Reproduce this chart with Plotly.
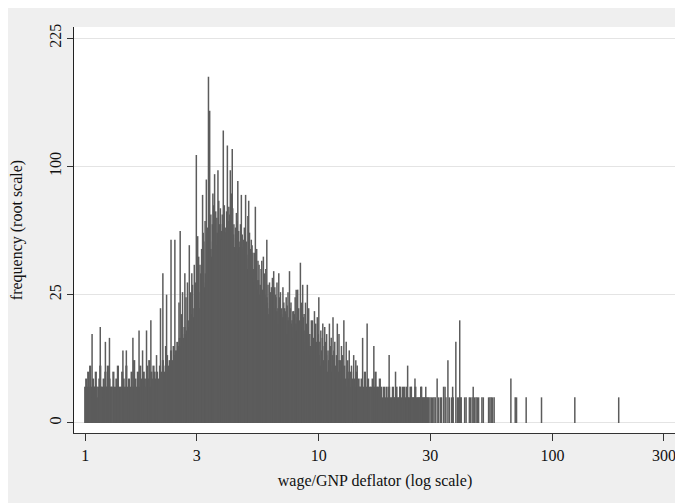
import math
import plotly.graph_objects as go

# ---- data: wage value (wage/GNP deflator) and frequency of that value ----
dense_wage_a = [1.00, 1.01, 1.02, 1.03, 1.04, 1.05, 1.06, 1.07, 1.08, 1.09,
                1.10, 1.11, 1.12, 1.13, 1.14, 1.15, 1.16, 1.17, 1.18, 1.19,
                1.20, 1.21, 1.22, 1.23, 1.24, 1.25, 1.26, 1.27, 1.28, 1.29]
dense_freq_a = [2, 3, 2, 4, 2, 5, 2, 1, 3, 2,
                2, 4, 2, 1, 2, 3, 5, 2, 2, 1,
                3, 2, 4, 2, 2, 5, 2, 3, 1, 2]

dense_wage_b = [1.30, 1.32, 1.34, 1.36, 1.38, 1.40, 1.42, 1.44, 1.46, 1.48,
                1.50, 1.52, 1.54, 1.56, 1.58, 1.60, 1.62, 1.64, 1.66, 1.68,
                1.70, 1.72, 1.74, 1.76, 1.78, 1.80, 1.82, 1.84, 1.86, 1.88,
                1.90, 1.92, 1.94, 1.96, 1.98]
dense_freq_b = [2, 4, 2, 3, 5, 2, 2, 4, 3, 2,
                5, 2, 3, 2, 4, 2, 6, 3, 2, 4,
                2, 5, 3, 2, 4, 3, 2, 5, 3, 6,
                2, 4, 3, 5, 4]

dense_wage_c = [2.00, 2.03, 2.06, 2.09, 2.12, 2.15, 2.18, 2.21, 2.24, 2.27,
                2.30, 2.33, 2.36, 2.39, 2.42, 2.45, 2.48, 2.51, 2.54, 2.57,
                2.60, 2.63, 2.66, 2.69, 2.72, 2.75, 2.78, 2.81, 2.84, 2.87,
                2.90, 2.93, 2.96]
dense_freq_c = [3, 4, 3, 5, 4, 6, 4, 5, 7, 5,
                6, 8, 6, 9, 7, 8, 10, 9, 11, 9,
                12, 11, 14, 12, 13, 16, 14, 15, 18, 16,
                17, 20, 18]

dense_wage_d = [3.00, 3.04, 3.08, 3.12, 3.16, 3.20, 3.24, 3.28, 3.32, 3.36,
                3.40, 3.44, 3.48, 3.52, 3.56, 3.60, 3.64, 3.68, 3.72, 3.76,
                3.80, 3.84, 3.88, 3.92, 3.96]
dense_freq_d = [18, 22, 20, 26, 24, 30, 28, 34, 32, 40,
                38, 46, 42, 50, 45, 52, 48, 55, 50, 58,
                52, 56, 60, 54, 58]

dense_wage_e = [4.00, 4.06, 4.12, 4.18, 4.24, 4.30, 4.36, 4.42, 4.48, 4.54,
                4.60, 4.66, 4.72, 4.78, 4.84, 4.90, 4.96, 5.02, 5.08, 5.14,
                5.20, 5.26, 5.32, 5.38, 5.44, 5.50, 5.56, 5.62, 5.68, 5.74,
                5.80, 5.86, 5.92, 5.98]
dense_freq_e = [55, 48, 58, 50, 46, 54, 47, 52, 44, 50,
                42, 47, 40, 46, 38, 43, 36, 41, 34, 38,
                32, 36, 30, 33, 27, 31, 25, 29, 23, 27,
                22, 25, 21, 24]

dense_wage_f = [6.0, 6.1, 6.2, 6.3, 6.4, 6.5, 6.6, 6.7, 6.8, 6.9,
                7.0, 7.1, 7.2, 7.3, 7.4, 7.5, 7.6, 7.7, 7.8, 7.9,
                8.0, 8.1, 8.2, 8.3, 8.4, 8.5, 8.6, 8.7, 8.8, 8.9,
                9.0, 9.1, 9.2, 9.3, 9.4, 9.5, 9.6, 9.7, 9.8, 9.9]
dense_freq_f = [22, 18, 24, 17, 20, 16, 19, 15, 21, 14,
                17, 13, 18, 12, 16, 12, 15, 11, 14, 10,
                13, 10, 12, 9, 11, 9, 12, 8, 10, 8,
                10, 7, 9, 8, 11, 7, 9, 6, 8, 7]

dense_wage_g = [10.00, 10.15, 10.30, 10.45, 10.60, 10.75, 10.90, 11.05, 11.20, 11.35,
                11.50, 11.65, 11.80, 11.95, 12.10, 12.25, 12.40, 12.55, 12.70, 12.85,
                13.00, 13.15, 13.30, 13.45, 13.60, 13.75, 13.90, 14.05, 14.20, 14.35,
                14.50, 14.65, 14.80, 14.95]
dense_freq_g = [7, 5, 8, 6, 5, 7, 4, 6, 5, 4,
                6, 4, 5, 3, 4, 6, 3, 4, 3, 5,
                3, 2, 4, 3, 2, 4, 3, 2, 3, 2,
                4, 2, 3, 2]

dense_wage_h = [15.00, 15.25, 15.50, 15.75, 16.00, 16.25, 16.50, 16.75, 17.00, 17.25,
                17.50, 17.75, 18.00, 18.25, 18.50, 18.75, 19.00, 19.25, 19.50, 19.75,
                20.00, 20.25, 20.50, 20.75, 21.00, 21.25, 21.50, 21.75, 22.00]
dense_freq_h = [2, 3, 2, 4, 2, 3, 2, 2, 3, 2,
                4, 2, 2, 3, 2, 1, 2, 1, 2, 1,
                2, 1, 1, 2, 1, 1, 2, 1, 1]

dense_wage_i = [22.3, 22.6, 22.9, 23.2, 23.5, 23.8, 24.1, 24.4, 24.7, 25.0,
                25.3, 25.6, 25.9, 26.2, 26.5, 26.8, 27.1, 27.4, 27.7, 28.0,
                28.3, 28.6, 28.9, 29.2]
dense_freq_i = [2, 1, 2, 1, 1, 2, 1, 1, 2, 1,
                1, 1, 2, 1, 1, 1, 1, 2, 1, 1,
                1, 1, 1, 1]

fringe_wage = [2.52, 2.58, 2.61, 2.70, 2.74, 2.83, 2.86, 2.93, 2.96,
               3.06, 3.10, 3.15, 3.20, 3.26, 3.33, 3.39, 3.45, 3.50, 3.55,
               3.62, 3.66, 3.73, 3.79, 3.86, 3.94,
               4.03, 4.09, 4.15, 4.28, 4.33, 4.40, 4.47, 4.54, 4.62, 4.70,
               4.80, 4.90, 5.05, 5.10, 5.18, 5.30, 5.42, 5.55, 5.70, 5.85, 5.93,
               6.15, 6.33, 6.48, 6.62, 6.85, 7.02, 7.25, 7.38, 7.60, 7.92,
               8.20, 8.45, 8.65, 9.05, 9.40, 9.70, 9.85,
               10.2, 10.4, 10.8, 11.3, 11.7, 12.2, 12.5, 13.1, 13.5, 14.1, 14.4]
fringe_freq = [22, 18, 26, 24, 30, 26, 34, 38, 30,
               42, 38, 46, 55, 62, 58, 70, 66, 60, 72,
               68, 64, 75, 70, 66, 72,
               68, 62, 66, 70, 60, 58, 62, 56, 60, 54,
               58, 50, 55, 46, 48, 44, 46, 38, 40, 34, 36,
               30, 32, 28, 30, 26, 28, 24, 26, 22, 24,
               20, 22, 18, 20, 16, 15, 17,
               13, 15, 12, 11, 10, 12, 9, 10, 8, 7, 6]

fringe2_wage = [6.05, 6.22, 6.38, 6.52, 6.68, 6.78, 6.92, 7.08, 7.18, 7.32,
                7.45, 7.55, 7.68, 7.85, 7.98, 8.08, 8.28, 8.40, 8.58, 8.72,
                8.85, 9.00, 9.15, 9.35, 9.50, 9.62, 9.78, 9.95, 10.1, 10.35,
                10.55, 10.7, 10.95, 11.2, 11.45, 11.6, 11.9, 12.35, 12.65, 13.3,
                13.8, 14.6]
fringe2_freq = [20, 26, 22, 25, 20, 24, 18, 22, 19, 21,
                17, 20, 16, 18, 15, 17, 16, 14, 17, 13,
                15, 14, 12, 14, 11, 13, 10, 12, 10, 11,
                9, 10, 8, 9, 7, 8, 7, 6, 7, 6,
                5, 5]

peak_wage = [1.07, 1.16, 1.22, 1.27, 1.45, 1.50, 1.60, 1.70, 1.76, 1.83,
             1.91, 2.02, 2.10, 2.15, 2.21, 2.23, 2.33, 2.42, 2.55, 2.67,
             2.79, 2.88, 2.99, 3.03, 3.12, 3.18, 3.22, 3.30, 3.37, 3.41,
             3.52, 3.58, 3.70, 3.76, 3.83, 3.90, 3.98, 4.06, 4.12, 4.18,
             4.22, 4.26, 4.37, 4.44, 4.50, 4.58, 4.66, 4.76, 4.86, 4.97,
             5.01, 5.14, 5.22, 5.35, 5.49, 5.66, 5.79, 5.99, 6.06, 6.27,
             6.41, 6.56, 6.74, 6.94, 7.14, 7.49, 7.74, 7.81, 8.00, 8.12,
             8.34, 8.53, 8.77, 8.93, 9.29, 9.58, 10.0, 10.6, 11.1, 11.5,
             12.0, 12.8, 15.4, 16.1, 17.2, 20.0, 21.3, 22.2, 23.3, 24.0,
             24.9, 25.8, 27.5, 28.7]
peak_freq = [12, 14, 10, 11, 8, 8, 11, 13, 8, 13,
             16, 7, 20, 34, 9, 25, 51, 51, 56, 34,
             48, 29, 109, 53, 34, 79, 50, 90, 182, 148,
             80, 94, 97, 60, 51, 130, 55, 117, 71, 97,
             80, 114, 40, 67, 89, 47, 79, 51, 79, 65,
             75, 51, 44, 71, 40, 36, 42, 51, 29, 28,
             35, 24, 34, 20, 20, 35, 19, 19, 27, 27,
             39, 29, 22, 29, 16, 19, 24, 14, 15, 17,
             15, 16, 11, 15, 9, 7, 4, 2, 2, 5,
             2, 3, 2, 2]

tail_wage = [29.5, 29.9, 30.3, 30.7, 31.1, 31.5, 32.1, 32.6, 33.2, 33.5,
             34.2, 34.7, 35.0, 35.7, 36.2, 37.0, 37.4, 37.6, 38.6, 39.2,
             39.7, 40.1, 40.4, 40.7, 42.1, 42.7, 44.1, 44.5, 45.3, 45.8,
             46.4, 47.1, 47.7, 48.3, 49.9, 50.6, 53.3, 54.0, 54.7, 55.4,
             56.3, 66.4, 69.3, 70.2, 77.2, 89.8, 124.7, 192.2]
tail_freq = [1, 1, 1, 1, 1, 1, 3, 1, 1, 1,
             2, 2, 1, 6, 1, 1, 2, 1, 10, 1,
             1, 16, 1, 1, 1, 1, 1, 1, 1, 2,
             1, 1, 1, 1, 1, 1, 1, 1, 1, 1,
             1, 3, 1, 1, 1, 1, 1, 1]

x_ticks = [1, 3, 10, 30, 100, 300]
y_ticks = [0, 25, 100, 225]

SPIKE = "#5c5c5c"


def spikes(wages, freqs):
    xs, ys = [], []
    for w, f in zip(wages, freqs):
        xs += [w, w, None]
        ys += [0, math.sqrt(f), None]  # root scale
    return xs, ys


dense_w = (dense_wage_a + dense_wage_b + dense_wage_c + dense_wage_d + dense_wage_e
           + dense_wage_f + dense_wage_g + dense_wage_h + dense_wage_i)
dense_f = (dense_freq_a + dense_freq_b + dense_freq_c + dense_freq_d + dense_freq_e
           + dense_freq_f + dense_freq_g + dense_freq_h + dense_freq_i)

fig = go.Figure()
for (w, f, lw) in [(dense_w, dense_f, 2.2), (fringe_wage, fringe_freq, 1.5),
                   (fringe2_wage, fringe2_freq, 1.5),
                   (peak_wage, peak_freq, 1.5), (tail_wage, tail_freq, 1.5)]:
    xs, ys = spikes(w, f)
    fig.add_trace(go.Scatter(x=xs, y=ys, mode="lines",
                             line=dict(color=SPIKE, width=lw),
                             hoverinfo="skip", showlegend=False))

font_family = "Liberation Serif, Times New Roman, serif"

fig.update_layout(
    width=683, height=503,
    margin=dict(l=66, r=15, t=19, b=78),
    paper_bgcolor="#efefef",
    plot_bgcolor="white",
    font=dict(family=font_family, size=16, color="#111"),
    showlegend=False,
)
fig.update_xaxes(
    type="log", range=[-0.048, 2.529],
    tickvals=x_ticks, ticktext=[str(v) for v in x_ticks],
    ticks="outside", ticklen=7, tickwidth=1, tickcolor="#333",
    showline=True, linecolor="#333", linewidth=1,
    showgrid=False, zeroline=False,
    ticklabelstandoff=1,
    title=dict(text="wage/GNP deflator (log scale)", standoff=11,
               font=dict(family=font_family, size=16)),
    automargin=False,
)
fig.update_yaxes(
    range=[-0.39, 15.43],
    tickvals=[math.sqrt(v) for v in y_ticks], ticktext=[str(v) for v in y_ticks],
    tickangle=-90,
    ticks="outside", ticklen=6, tickwidth=1, tickcolor="#333",
    showline=True, linecolor="#222", linewidth=1,
    showgrid=True, gridcolor="#e4e4e4", gridwidth=1,
    zeroline=False,
    title=dict(text="frequency (root scale)", standoff=22,
               font=dict(family=font_family, size=16)),
    automargin=False,
)

fig.write_html("out.html")
